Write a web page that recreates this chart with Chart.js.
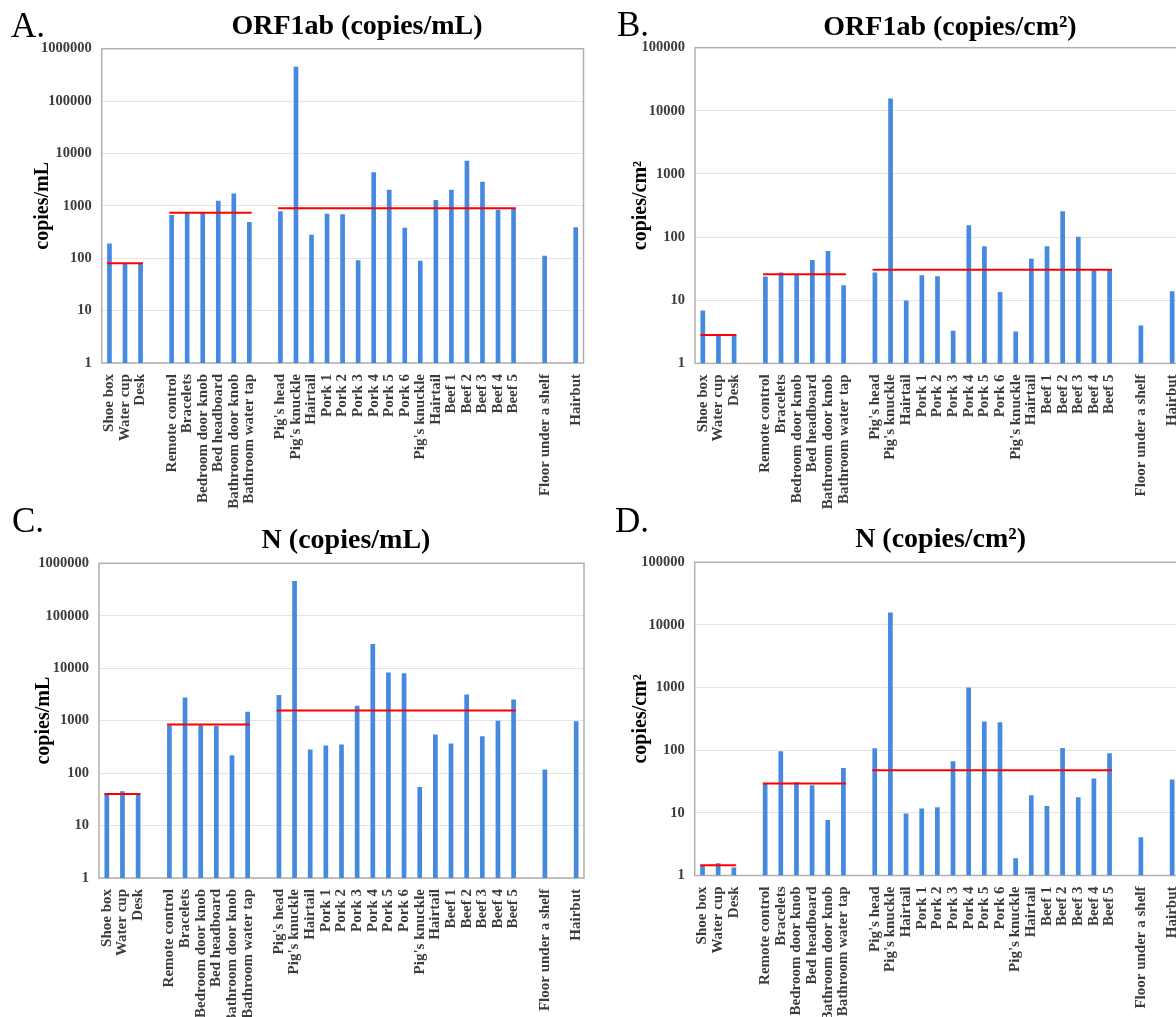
<!DOCTYPE html>
<html>
<head>
<meta charset="utf-8">
<script src="https://cdn.jsdelivr.net/npm/chart.js@4.4.1/dist/chart.umd.min.js"></script>
<style>
html, body { margin: 0; padding: 0; background: #fff; overflow: hidden; width: 1176px; height: 1017px; }
canvas { position: absolute; }
</style>
</head>
<body>
<canvas id="chartA" width="620" height="510" style="left:0px;top:0px"></canvas>
<canvas id="chartB" width="620" height="510" style="left:590px;top:0px"></canvas>
<canvas id="chartC" width="620" height="517" style="left:0px;top:500px"></canvas>
<canvas id="chartD" width="620" height="517" style="left:590px;top:500px"></canvas>
<script>
// sample sites, empty strings are the gaps between groups
const sampleLabels = ["Shoe box", "Water cup", "Desk", "",
	"Remote control", "Bracelets", "Bedroom door knob", "Bed headboard", "Bathroom door knob", "Bathroom water tap", "",
	"Pig's head", "Pig's knuckle", "Hairtail", "Pork 1", "Pork 2", "Pork 3", "Pork 4", "Pork 5", "Pork 6",
	"Pig's knuckle", "Hairtail", "Beef 1", "Beef 2", "Beef 3", "Beef 4", "Beef 5", "",
	"Floor under a shelf", "", "Hairbut"];

// first and last index of each averaged group
const groups = [[0, 2], [4, 9], [11, 26]];

const ticksMl = [1, 10, 100, 1000, 10000, 100000, 1000000];
const ticksCm2 = [1, 10, 100, 1000, 10000, 100000];

const orf1abMl = [192, 80, 80, null, 670, 750, 750, 1250, 1730, 490, null,
	785, 452000, 281, 707, 688, 92, 4400, 2030, 382, 90, 1290, 2030, 7260, 2880, 843, 895, null,
	112, null, 389];
const orf1abMlMeans = [80, 740, 900];

const orf1abCm2 = [6.9, 2.75, 2.75, null, 23.7, 27.4, 25.8, 43.5, 60.5, 17.3, null,
	27.4, 15700, 9.9, 24.9, 24, 3.3, 154, 71.8, 13.5, 3.2, 45.6, 71.8, 257, 101, 30.2, 31, null,
	4.0, null, 13.9];
const orf1abCm2Means = [2.82, 25.8, 30.5];

const nMl = [40.7, 45, 39.5, null, 819, 2760, 819, 796, 219, 1470, null,
	3100, 459000, 281, 335, 350, 1920, 28800, 8290, 8050, 54.6, 544, 366, 3150, 505, 991, 2530, null,
	117, null, 977];
const nMlMeans = [40, 844, 1560];

const nCm2 = [1.44, 1.57, 1.34, null, 29, 96.4, 30.9, 27.6, 7.7, 52.2, null,
	107.6, 15730, 9.76, 11.7, 12.3, 66.7, 1000, 287, 280, 1.89, 19.1, 12.9, 109, 17.8, 35.3, 89.5, null,
	4.09, null, 34];
const nCm2Means = [1.46, 29.4, 48];

const SERIF = '"Liberation Serif", "Times New Roman", serif';

// box round the plot
const frame = {
	id: 'frame',
	beforeDatasetsDraw(chart) {
		const {ctx, chartArea: a} = chart;
		ctx.save();
		ctx.strokeStyle = '#b0b0b0';
		ctx.lineWidth = 1.5;
		ctx.strokeRect(a.left, a.top, a.right - a.left, a.bottom - a.top);
		ctx.restore();
	}
};

// red group mean lines, from the first bar's left edge to the last bar's right edge
const meanLines = {
	id: 'meanLines',
	afterDatasetsDraw(chart, args, opts) {
		const {ctx} = chart;
		const xs = chart.scales.x, ys = chart.scales.y;
		const bars = chart.getDatasetMeta(0).data;
		ctx.save();
		ctx.strokeStyle = '#ff0000';
		ctx.lineWidth = 2;
		groups.forEach((g, i) => {
			const half = bars[g[0]].width / 2;
			const y = ys.getPixelForValue(opts.values[i]);
			ctx.beginPath();
			ctx.moveTo(xs.getPixelForValue(g[0]) - half, y);
			ctx.lineTo(xs.getPixelForValue(g[1]) + half, y);
			ctx.stroke();
		});
		ctx.restore();
	}
};

// panel letter and title
const panelText = {
	id: 'panelText',
	afterDraw(chart, args, opts) {
		const {ctx} = chart;
		ctx.save();
		ctx.fillStyle = '#000';
		ctx.textBaseline = 'alphabetic';
		ctx.textAlign = 'left';
		ctx.font = '35px ' + SERIF;
		ctx.fillText(opts.letter, opts.letterX, opts.letterY);
		ctx.textAlign = 'center';
		ctx.font = 'bold 28px ' + SERIF;
		ctx.fillText(opts.title, opts.titleX, opts.titleY);
		ctx.restore();
	}
};

function makePanel(id, values, means, yTicks, yTitle, box, text) {
	return new Chart(document.getElementById(id), {
		type: 'bar',
		data: {
			labels: sampleLabels,
			datasets: [{
				data: values,
				backgroundColor: '#4689e0',
				barPercentage: 0.3,
				categoryPercentage: 1
			}]
		},
		options: {
			responsive: false,
			animation: false,
			layout: {padding: {top: box.top, left: box.left, right: box.right, bottom: 0}},
			plugins: {
				legend: {display: false},
				tooltip: {enabled: false},
				meanLines: {values: means},
				panelText: text
			},
			scales: {
				x: {
					grid: {display: false, drawTicks: false},
					border: {display: false},
					ticks: {
						autoSkip: false,
						maxRotation: 90,
						minRotation: 90,
						padding: 11,
						color: '#3c3c3c',
						font: {family: SERIF, size: 15, weight: 'bold'}
					},
					afterFit: (s) => { s.height = box.xHeight; }
				},
				y: {
					type: 'logarithmic',
					min: yTicks[0],
					max: yTicks[yTicks.length - 1],
					border: {display: false},
					grid: {color: '#e4e4e4', drawTicks: false},
					ticks: {
						padding: 10,
						color: '#3c3c3c',
						font: {family: SERIF, size: 14.5, weight: 'bold'},
						callback: (v) => String(v)
					},
					afterBuildTicks: (s) => { s.ticks = yTicks.map(v => ({value: v})); },
					afterFit: (s) => { s.width = box.yWidth; },
					title: {
						display: true,
						text: yTitle,
						color: '#000',
						padding: 0,
						font: {family: SERIF, size: 20, weight: 'bold'}
					}
				}
			}
		},
		plugins: [frame, meanLines, panelText]
	});
}

makePanel('chartA', orf1abMl, orf1abMlMeans, ticksMl, 'copies/mL',
	{top: 48.7, left: 31, right: 36.5, yWidth: 70.7, xHeight: 147},
	{letter: 'A.', letterX: 11, letterY: 37, title: 'ORF1ab (copies/mL)', titleX: 357, titleY: 34});

makePanel('chartB', orf1abCm2, orf1abCm2Means, ticksCm2, 'copies/cm²',
	{top: 47.7, left: 39, right: 30, yWidth: 66, xHeight: 146.6},
	{letter: 'B.', letterX: 27, letterY: 36, title: 'ORF1ab (copies/cm²)', titleX: 360, titleY: 35});

makePanel('chartC', nMl, nMlMeans, ticksMl, 'copies/mL',
	{top: 63.3, left: 31.4, right: 36, yWidth: 67.6, xHeight: 139},
	{letter: 'C.', letterX: 12, letterY: 32, title: 'N (copies/mL)', titleX: 346, titleY: 48});

makePanel('chartD', nCm2, nCm2Means, ticksCm2, 'copies/cm²',
	{top: 62.3, left: 38.5, right: 30, yWidth: 66.2, xHeight: 141.5},
	{letter: 'D.', letterX: 25, letterY: 32, title: 'N (copies/cm²)', titleX: 350.6, titleY: 47});
</script>
</body>
</html>
